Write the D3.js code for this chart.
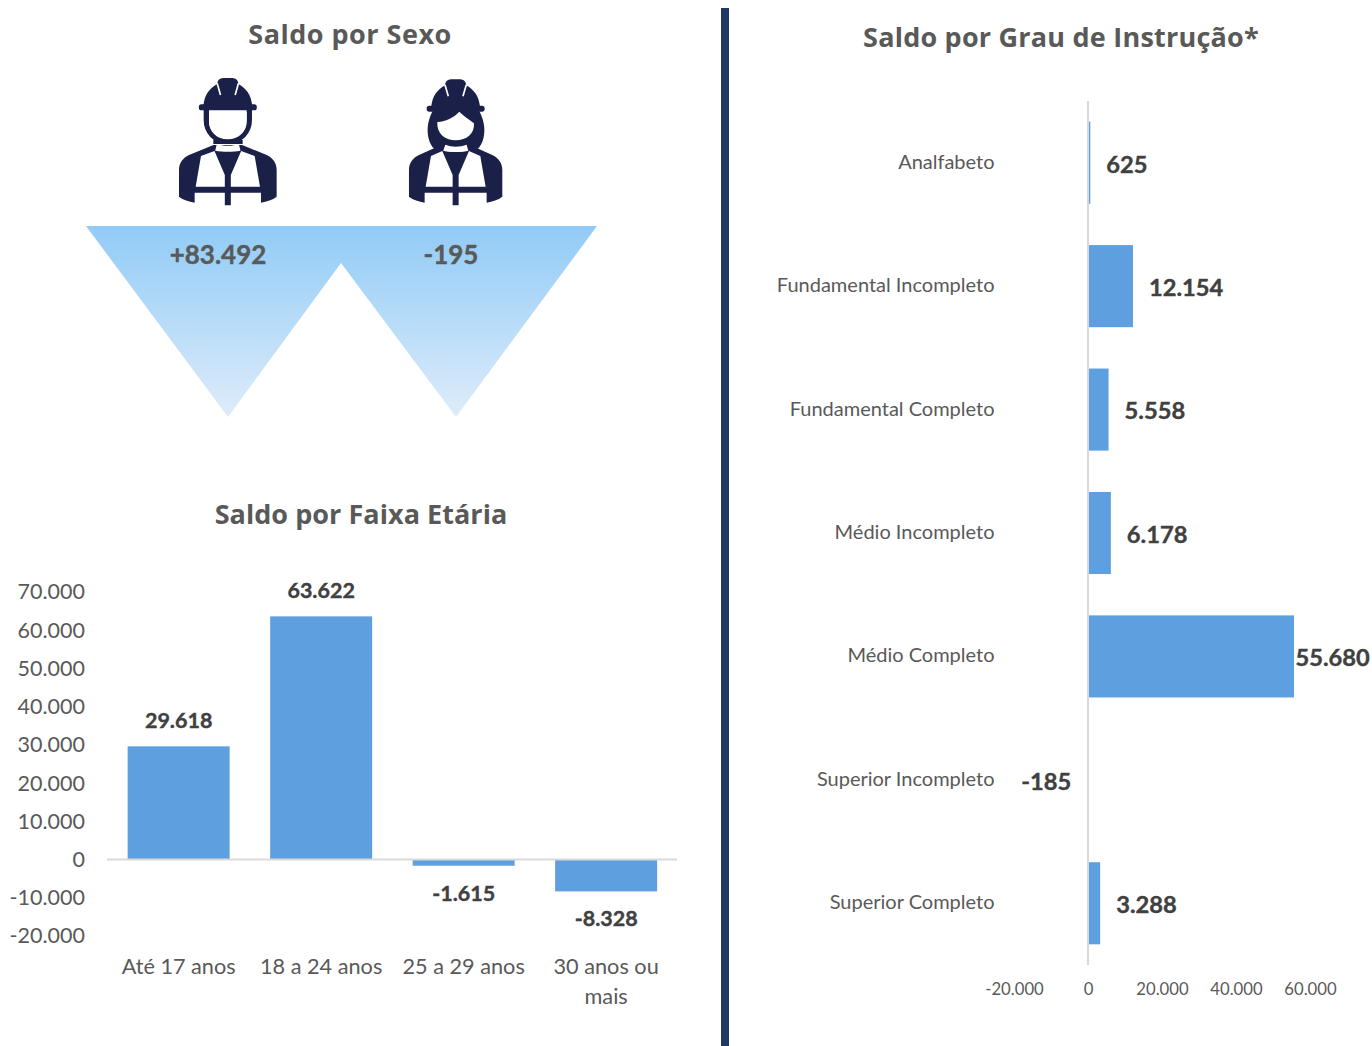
<!DOCTYPE html>
<html>
<head>
<meta charset="utf-8">
<script src="https://cdn.jsdelivr.net/npm/d3@7"></script>
<style>
  html, body { margin: 0; padding: 0; background: #fff; }
  svg { display: block; }
  text { font-family: Lato, sans-serif; }
  .title { font-family: "Open Sans", sans-serif; font-weight: 700; fill: #595959; }
  .bold { font-weight: 700; stroke-width: 0.4px; }
</style>
</head>
<body>
<div id="chart"></div>
<script>
// Data
var sexLabels = ["+83.492", "-195"];

var ageCategories = [["Até 17 anos"], ["18 a 24 anos"], ["25 a 29 anos"], ["30 anos ou", "mais"]];
var ageValues = [29618, 63622, -1615, -8328];
var ageTicks = [70000, 60000, 50000, 40000, 30000, 20000, 10000, 0, -10000, -20000];

var eduCategories = ["Analfabeto", "Fundamental Incompleto", "Fundamental Completo", "Médio Incompleto", "Médio Completo", "Superior Incompleto", "Superior Completo"];
var eduValues = [625, 12154, 5558, 6178, 55680, -185, 3288];
var eduTicks = [-20000, 0, 20000, 40000, 60000];

var width = 1372, height = 1046;
var barColor = "#5E9FDF", navy = "#1B2048";

// numbers with a dot as thousands separator and a plain hyphen for minus
var fmt = d3.formatLocale({ decimal: ",", thousands: ".", grouping: [3], currency: ["", ""], minus: "-" }).format(",d");

var svg = d3.select("#chart").append("svg")
    .attr("width", width)
    .attr("height", height);

// Divider between left and right panels
svg.append("rect")
    .attr("x", 721).attr("y", 8)
    .attr("width", 8).attr("height", 1038)
    .attr("fill", "#1F3864");

// Titles
function title(x, y, t, spacing) {
  svg.append("text").attr("class", "title")
      .attr("x", x).attr("y", y)
      .attr("text-anchor", "middle")
      .style("font-size", "27px")
      .style("letter-spacing", spacing + "px")
      .text(t);
}
title(350, 44, "Saldo por Sexo", 0.5);
title(361, 524, "Saldo por Faixa Etária", 0.05);
title(1061, 47, "Saldo por Grau de Instrução*", 0.22);

// ---- Saldo por Sexo: triangles
var grad = svg.append("defs").append("linearGradient")
    .attr("id", "tri").attr("x1", 0).attr("y1", 0).attr("x2", 0).attr("y2", 1);
grad.append("stop").attr("offset", "0%").attr("stop-color", "#91CBF6");
grad.append("stop").attr("offset", "100%").attr("stop-color", "#DEECFA");

svg.append("path")
    .attr("d", "M86 226H597L456 417L341 263L228 417Z")
    .attr("fill", "url(#tri)");

svg.selectAll(".sex").data(sexLabels).enter().append("text")
    .attr("class", "sex bold")
    .attr("x", function(d, i) { return [218, 451][i]; })
    .attr("y", 264)
    .attr("text-anchor", "middle")
    .attr("fill", "#595959")
    .attr("stroke", "#595959")
    .style("font-size", "26px")
    .text(function(d) { return d; });

// ---- Worker icons, drawn in 3x coordinates
function vest(g, cx, half) {
  // shoulders and vest
  g.append("path").attr("fill", navy).attr("d",
    "M" + (cx - 43) + " 255L" + (cx - half + 30) + " 285C" + (cx - half + 10) + " 295 " + (cx - half) + " 310 " + (cx - half) + " 330V410" +
    "C" + (cx - half + 12) + " 420 " + (cx - half + 30) + " 425 " + (cx - half + 47) + " 428V398H" + (cx - 9) + "V436H" + (cx + 9) + "V398H" + (cx + half - 47) +
    "V428C" + (cx + half - 30) + " 425 " + (cx + half - 12) + " 420 " + (cx + half) + " 410V330C" + (cx + half) + " 310 " + (cx + half - 10) + " 295 " + (cx + half - 30) +
    " 285L" + (cx + 43) + " 255Z");
  // white panels of the vest
  g.append("path").attr("fill", "#fff").attr("d",
    "M" + (cx - half + 66) + " 288L" + (cx - 40) + " 273L" + (cx - 9) + " 345V380H" + (cx - half + 50) + "Z" +
    "M" + (cx + half - 66) + " 288L" + (cx + 40) + " 273L" + (cx + 9) + " 345V380H" + (cx + half - 50) + "Z");
  // collar
  g.append("path").attr("fill", "#fff").attr("d",
    "M" + (cx - 33) + " 252C" + (cx - 15) + " 259 " + (cx + 15) + " 259 " + (cx + 33) + " 252L" + (cx + 38) + " 272C" + (cx + 15) + " 276 " + (cx - 15) + " 276 " + (cx - 38) + " 272Z");
}
function helmet(g, cx, dy) {
  g.append("path").attr("fill", navy).attr("d",
    "M" + (cx - 73) + " " + (135 + dy) + "C" + (cx - 70) + " " + (105 + dy) + " " + (cx - 55) + " " + (85 + dy) + " " + (cx - 32) + " " + (72 + dy) +
    "C" + (cx - 30) + " " + (56 + dy) + " " + (cx - 20) + " " + (54 + dy) + " " + (cx - 10) + " " + (54 + dy) + "H" + (cx + 10) +
    "C" + (cx + 20) + " " + (54 + dy) + " " + (cx + 30) + " " + (56 + dy) + " " + (cx + 32) + " " + (72 + dy) +
    "C" + (cx + 55) + " " + (85 + dy) + " " + (cx + 70) + " " + (105 + dy) + " " + (cx + 73) + " " + (135 + dy) + "Z");
  g.append("rect").attr("fill", navy).attr("rx", 8)
      .attr("x", cx - 87).attr("y", 133 + dy).attr("width", 174).attr("height", 18);
  g.selectAll(".slit").data([-1, 1]).enter().append("line")
      .attr("x1", function(d) { return cx + d * 32; }).attr("y1", 70 + dy)
      .attr("x2", function(d) { return cx + d * 22; }).attr("y2", 105 + dy)
      .attr("stroke", "#fff").attr("stroke-width", 5);
}

var man = svg.append("g").attr("transform", "translate(150,60) scale(0.3333)");
vest(man, 233.5, 146.5);
man.append("path")
    .attr("d", "M169 148V180C169 215 195 244 233 244C272 244 298 215 298 180V148Z")
    .attr("fill", "#fff").attr("stroke", navy).attr("stroke-width", 16);
man.append("rect").attr("fill", navy).attr("x", 190).attr("y", 240).attr("width", 88).attr("height", 12);
man.append("path").attr("fill", "#fff").attr("d", "M177 150H290V185C290 215 265 238 233 238C201 238 177 215 177 185Z");
helmet(man, 233.5, 0);

var woman = svg.append("g").attr("transform", "translate(150,60) scale(0.3333)");
vest(woman, 917, 140);
woman.append("path").attr("fill", navy)
    .attr("d", "M850 150C826 190 826 245 858 272H978C1010 245 1010 190 986 150Z");
woman.append("path").attr("fill", "#fff")
    .attr("d", "M862 186C890 184 912 172 928 155C940 168 958 178 972 190C974 222 950 241 917 241C884 241 860 220 862 186Z");
woman.append("path").attr("fill", "#fff")
    .attr("d", "M886 254C905 262 930 262 950 254L955 272C930 277 905 277 880 272Z");
helmet(woman, 917, 4);

// ---- Saldo por Faixa Etária
var xAge = d3.scaleBand()
    .domain(d3.range(ageCategories.length))
    .range([107.4, 677.4])
    .paddingInner(0.284)
    .paddingOuter(0.142);
var yAge = d3.scaleLinear().domain([-20000, 70000]).range([936, 592]);

var ageAxis = svg.append("g")
    .attr("transform", "translate(85,0)")
    .call(d3.axisLeft(yAge).tickValues(ageTicks).tickSize(0).tickPadding(0).tickFormat(fmt));
ageAxis.select(".domain").remove();
ageAxis.selectAll("text")
    .attr("fill", "#595959")
    .style("font-family", "Lato, sans-serif")
    .style("font-size", "21.5px");

svg.selectAll(".ageBar").data(ageValues).enter().append("rect")
    .attr("class", "ageBar")
    .attr("x", function(d, i) { return xAge(i); })
    .attr("width", xAge.bandwidth())
    .attr("y", function(d) { return yAge(Math.max(d, 0)); })
    .attr("height", function(d) { return Math.abs(yAge(d) - yAge(0)); })
    .attr("fill", barColor);

svg.append("line")
    .attr("x1", 107).attr("x2", 677)
    .attr("y1", yAge(0)).attr("y2", yAge(0))
    .attr("stroke", "#D9D9D9").attr("stroke-width", 2);

svg.selectAll(".ageLabel").data(ageValues).enter().append("text")
    .attr("class", "ageLabel bold")
    .attr("x", function(d, i) { return xAge(i) + xAge.bandwidth() / 2; })
    .attr("y", function(d) { return d >= 0 ? yAge(d) - 25.6 : yAge(d) + 27.4; })
    .attr("dy", "0.35em")
    .attr("text-anchor", "middle")
    .attr("fill", "#404040")
    .attr("stroke", "#404040")
    .style("font-size", "21.5px")
    .text(function(d) { return fmt(d); });

ageCategories.forEach(function(lines, i) {
  lines.forEach(function(line, j) {
    svg.append("text")
        .attr("x", xAge(i) + xAge.bandwidth() / 2)
        .attr("y", 974 + j * 30)
        .attr("text-anchor", "middle")
        .attr("fill", "#595959")
        .style("font-size", "21.7px")
        .text(line);
  });
});

// ---- Saldo por Grau de Instrução
var xEdu = d3.scaleLinear().domain([-20000, 60000]).range([1014, 1310]);
var yEdu = d3.scaleBand()
    .domain(eduCategories)
    .range([101, 965])
    .paddingInner(0.335)
    .paddingOuter(0.1675);

var eduAxis = svg.append("g")
    .attr("transform", "translate(0,989)")
    .call(d3.axisBottom(xEdu).tickValues(eduTicks).tickSize(0).tickPadding(0).tickFormat(fmt));
eduAxis.select(".domain").remove();
eduAxis.selectAll("text")
    .attr("fill", "#595959")
    .attr("dy", "0.35em")
    .style("font-family", "Lato, sans-serif")
    .style("font-size", "16.7px");

svg.selectAll(".eduBar").data(eduValues).enter().append("rect")
    .attr("class", "eduBar")
    .attr("x", function(d) { return xEdu(Math.min(d, 0)); })
    .attr("y", function(d, i) { return yEdu(eduCategories[i]); })
    .attr("width", function(d) { return Math.abs(xEdu(d) - xEdu(0)); })
    .attr("height", yEdu.bandwidth())
    .attr("fill", barColor);

// axis line sits on top, it hides the tiny negative bar like in the original
svg.append("line")
    .attr("x1", xEdu(0)).attr("x2", xEdu(0))
    .attr("y1", 101).attr("y2", 965)
    .attr("stroke", "#D9D9D9").attr("stroke-width", 2);

svg.selectAll(".eduCat").data(eduCategories).enter().append("text")
    .attr("class", "eduCat")
    .attr("x", 994.5)
    .attr("y", function(d) { return yEdu(d) + yEdu.bandwidth() / 2 - 1; })
    .attr("dy", "0.35em")
    .attr("text-anchor", "end")
    .attr("fill", "#595959")
    .style("font-size", "20px")
    .text(function(d) { return d; });

svg.selectAll(".eduLabel").data(eduValues).enter().append("text")
    .attr("class", "eduLabel bold")
    .attr("x", function(d) {
      if (d < 0) return xEdu(d) - 16;
      // the longest bar leaves no room, its label hugs the bar
      return d > 50000 ? xEdu(d) + 1.5 : xEdu(d) + 16;
    })
    .attr("y", function(d, i) { return yEdu(eduCategories[i]) + yEdu.bandwidth() / 2 + 1.5; })
    .attr("dy", "0.35em")
    .attr("text-anchor", function(d) { return d >= 0 ? "start" : "end"; })
    .attr("fill", "#404040")
    .attr("stroke", "#404040")
    .style("font-size", "23.7px")
    .text(function(d) { return fmt(d); });
</script>
</body>
</html>
